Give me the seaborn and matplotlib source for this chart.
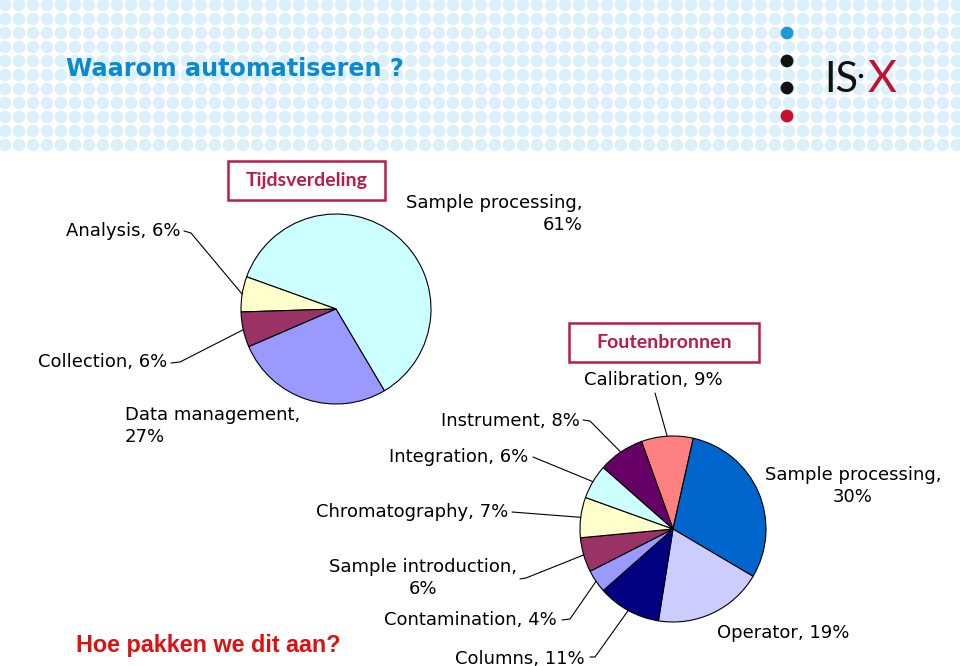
import numpy as np
import matplotlib.pyplot as plt
import matplotlib.patches as mpatches
import seaborn as sns

sns.set_theme(style="white")
plt.rcParams["font.family"] = ["DejaVu Sans"]

W, H = 960, 666

# --- data -------------------------------------------------------------
time_labels = ["Sample processing", "Analysis", "Collection", "Data management"]
time_values = [61, 6, 6, 27]
time_colors = ["#CCFFFF", "#FFFFCC", "#993366", "#9999FF"]

error_labels = ["Calibration", "Sample processing", "Operator", "Columns",
                "Contamination", "Sample introduction", "Chromatography",
                "Integration", "Instrument"]
error_values = [9, 30, 19, 11, 4, 6, 7, 6, 8]
error_colors = ["#FF8080", "#0066CC", "#CCCCFF", "#000080", "#9999FF",
                "#993366", "#FFFFCC", "#CCFFFF", "#660066"]

CRIMSON = "#b81d4a"


def py(y):
    # pixel row (top = 0) -> data y (bottom = 0)
    return H - y


fig = plt.figure(figsize=(W / 100, H / 100), dpi=100)
ax = fig.add_axes([0, 0, 1, 1])

# dotted header band
gx, gy = np.meshgrid(np.arange(5, W, 14), np.arange(5, 150, 14))
sns.scatterplot(x=gx.ravel(), y=py(gy.ravel()), s=82, color="#dcf0fa",
                edgecolor="none", legend=False, ax=ax, zorder=0)

# title
ax.text(66, py(76), "Waarom automatiseren ?", fontsize=17.2, fontweight="bold",
        color="#0a8ad0", ha="left", va="baseline")

# logo
sns.scatterplot(x=[787, 787, 787, 787], y=[py(33), py(61), py(88), py(116)],
                hue=["a", "b", "c", "d"],
                palette=["#1c9ad6", "#111111", "#111111", "#c8102e"],
                s=85, edgecolor="none", legend=False, ax=ax, zorder=3)
ax.text(824, py(92), "IS", fontsize=30, family="Lato",
        color="#111111", ha="left", va="baseline", zorder=3)
sns.scatterplot(x=[861], y=[py(76)], s=10, color="#111111",
                edgecolor="none", legend=False, ax=ax, zorder=3)
ax.text(868, py(92), "X", fontsize=32, family="Lato",
        color="#be1432", ha="left", va="baseline", zorder=3)

wedge_kw = dict(edgecolor="black", linewidth=0.8)

# --- pie 1: Tijdsverdeling ---------------------------------------------
c1, r1 = (336, py(309)), 95
w1, _ = ax.pie(time_values, colors=time_colors, startangle=-59.4,
               counterclock=True, center=c1, radius=r1,
               wedgeprops=wedge_kw, frame=True)

# --- pie 2: Foutenbronnen ----------------------------------------------
c2, r2 = (673, py(529)), 93
w2, _ = ax.pie(error_values, colors=error_colors, startangle=109.8,
               counterclock=False, center=c2, radius=r2,
               wedgeprops=wedge_kw, frame=True)


def edge_point(wedge, center, r):
    a = np.deg2rad((wedge.theta1 + wedge.theta2) / 2)
    return center[0] + r * np.cos(a), center[1] + r * np.sin(a)


lab_kw = dict(fontsize=13, color="black", linespacing=1.3)


def label(text, x, y, ha, wedge=None, center=None, r=None, leader=None):
    ax.text(x, py(y), text, ha=ha, va="center", multialignment=ha, **lab_kw)
    if wedge is not None:
        ex, ey = edge_point(wedge, center, r)
        xs = [p[0] for p in leader] + [ex]
        ys = [py(p[1]) for p in leader] + [ey]
        ax.plot(xs, ys, color="black", lw=0.8)


for i, val in enumerate(time_values):
    name = time_labels[i]
    if name == "Sample processing":
        label(f"{name},\n{val}%", 583, 214, "right")
    elif name == "Analysis":
        label(f"{name}, {val}%", 180, 231, "right", w1[i], c1, r1,
              [(184, 231), (191, 233)])
    elif name == "Collection":
        label(f"{name}, {val}%", 167, 362, "right", w1[i], c1, r1,
              [(171, 363), (180, 362)])
    else:
        label(f"{name},\n{val}%", 125, 426, "left")

pos2 = {
    "Calibration": (653, 380, "center", [(655, 393)]),
    "Sample processing": (853, 486, "center", None),
    "Operator": (783, 633, "center", None),
    "Columns": (585, 659, "right", [(590, 657), (595, 657)]),
    "Contamination": (557, 620, "right", [(562, 620), (570, 619)]),
    "Sample introduction": (423, 578, "center", [(520, 579), (526, 578)]),
    "Chromatography": (508, 512, "right", [(512, 512)]),
    "Integration": (528, 457, "right", [(533, 457)]),
    "Instrument": (580, 421, "right", [(583, 420), (590, 421)]),
}
for i, val in enumerate(error_values):
    name = error_labels[i]
    x, y, ha, leader = pos2[name]
    sep = "\n" if name in ("Sample processing", "Sample introduction") else " "
    if leader is None:
        label(f"{name},{sep}{val}%", x, y, ha)
    else:
        label(f"{name},{sep}{val}%", x, y, ha, w2[i], c2, r2, leader)

# boxed chart titles
for (x0, y0, x1, y1), title in [((228, 161, 385, 200), "Tijdsverdeling"),
                                ((569, 323, 759, 362), "Foutenbronnen")]:
    ax.add_patch(mpatches.Rectangle((x0, py(y1)), x1 - x0, y1 - y0,
                                    fill=False, edgecolor=CRIMSON, lw=1.8))
    ax.text((x0 + x1) / 2, py((y0 + y1) / 2), title, fontsize=14,
            family="Lato", fontweight="bold", color=CRIMSON,
            ha="center", va="center")

# footer question
ax.text(76, py(652), "Hoe pakken we dit aan?", fontsize=16.8,
        family="Liberation Sans", fontweight="bold", color="#e01010",
        ha="left", va="baseline")

ax.set_xlim(0, W)
ax.set_ylim(0, H)
ax.set_aspect("auto")
ax.axis("off")

fig.savefig("out.png", dpi=100)
